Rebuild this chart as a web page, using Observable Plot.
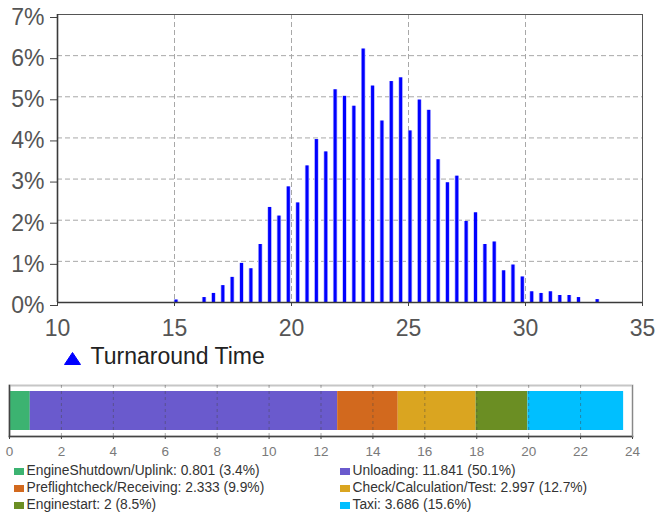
<!DOCTYPE html>
<html><head><meta charset="utf-8">
<script src="https://cdn.jsdelivr.net/npm/d3@7"></script>
<script src="https://cdn.jsdelivr.net/npm/@observablehq/plot@0.6"></script>
<style>
body{margin:0;background:#fff;font-family:"Liberation Sans",Arial,sans-serif;}
#wrap{position:relative;width:659px;height:512px;overflow:hidden;background:#fff;}
#top{position:absolute;left:0;top:0;}
#bot{position:absolute;left:0;top:375px;}
#leg1{position:absolute;left:64px;top:342.5px;height:26px;line-height:26px;font-size:23px;color:#222;white-space:nowrap;}
#leg1 svg{position:absolute;left:0;top:9px;}
#leg1 span{position:absolute;left:26.5px;top:0;}
.sw{position:absolute;width:10px;height:7px;}
.lt{position:absolute;font-size:13.8px;line-height:16px;color:#333;white-space:nowrap;}
</style></head><body><div id="wrap"><div id="top"></div><div id="leg1"></div><div id="bot"></div><div id="leg2"></div></div>
<script>
// ---- data ----
const binX = [15.0,16.2,16.6,17.0,17.4,17.8,18.2,18.6,19.0,19.4,19.8,20.2,20.6,21.0,21.4,21.8,22.2,22.6,23.0,23.4,23.8,24.2,24.6,25.0,25.4,25.8,26.2,26.6,27.0,27.4,27.8,28.2,28.6,29.0,29.4,29.8,30.2,30.6,31.0,31.4,31.8,32.2,33.0];
const binPct = [0.06,0.12,0.22,0.41,0.61,0.95,0.82,1.41,2.31,2.10,2.81,2.42,3.32,3.96,3.66,5.17,5.01,4.77,6.16,5.26,4.41,5.37,5.46,4.17,4.92,4.67,3.47,2.91,3.07,1.97,2.18,1.41,1.47,0.77,0.91,0.62,0.26,0.22,0.26,0.17,0.17,0.12,0.07];
const xTicks = [10,15,20,25,30,35];
const yTicks = [0,1,2,3,4,5,6,7];
const seriesName = "Turnaround Time";

const phaseNames = ["EngineShutdown/Uplink","Unloading","Preflightcheck/Receiving","Check/Calculation/Test","Enginestart","Taxi"];
const phaseValues = [0.801,11.841,2.333,2.997,2,3.686];
const phasePctLabels = ["3.4%","50.1%","9.9%","12.7%","8.5%","15.6%"];
const phaseValueLabels = ["0.801","11.841","2.333","2.997","2","3.686"];
const phaseColors = ["#3cb371","#6a5acd","#d2691e","#daa520","#6b8e23","#00bfff"];
const botTicks = [0,2,4,6,8,10,12,14,16,18,20,22,24];

const bins = binX.map((x,i)=>({x, v: binPct[i]}));
const font = "'Liberation Sans', Arial, sans-serif";

const topPlot = Plot.plot({
  width:659, height:345, marginLeft:57, marginRight:17, marginTop:14, marginBottom:43,
  style:{fontFamily:font, fontSize:"23px", color:"#555", background:"white", overflow:"visible"},
  x:{domain:[10,35], label:null}, y:{domain:[0,7], label:null},
  marks:[
    Plot.gridX([15,20,25,30], {stroke:"#a8a8a8", strokeOpacity:1, strokeDasharray:"5,3"}),
    Plot.gridY([1,2,3,4,5,6], {stroke:"#a8a8a8", strokeOpacity:1, strokeDasharray:"5,3"}),
    Plot.ruleX(bins, {x:"x", y1:0, y2:"v", stroke:"#b8b8ff", strokeWidth:4.4, dx:1.5}),
    Plot.ruleX(bins, {x:"x", y1:0, y2:"v", stroke:"#0000ff", strokeWidth:3, dx:1.5}),
    Plot.frame({stroke:"#555"}),
    Plot.axisX(xTicks, {tickSize:4, tickPadding:13, stroke:"#444", fill:"#555", label:null}),
    Plot.axisY(yTicks, {tickSize:7, tickPadding:6, dy:3, stroke:"#444", fill:"#555", label:null, tickFormat:d=>d+"%"}),
    Plot.ruleY([0], {stroke:"#3a3a3a", strokeWidth:1.6}),
    Plot.ruleX([10], {stroke:"#3a3a3a", strokeWidth:1.6})
  ]
});
document.getElementById("top").appendChild(topPlot);

document.getElementById("leg1").innerHTML =
  '<svg width="17" height="13" viewBox="0 0 17 13"><path d="M8.5 0.5 L16.5 12.5 L0.5 12.5 Z" fill="#0000ff" stroke="#0000ff" stroke-linejoin="round" stroke-width="1"/></svg><span></span>';
document.querySelector("#leg1 span").textContent = seriesName;

const segs = phaseNames.map((n,i)=>({name:n, value:phaseValues[i], row:"T"}));
const botPlot = Plot.plot({
  width:659, height:90, marginLeft:9, marginRight:27, marginTop:10, marginBottom:29,
  style:{fontFamily:font, fontSize:"13.5px", color:"#7a7a7a", background:"white", overflow:"visible"},
  x:{domain:[0,24], label:null}, y:{domain:["T"], axis:null, padding:0, label:null},
  color:{domain:phaseNames, range:phaseColors},
  marks:[
    Plot.frame({stroke:"#c6c6c6", strokeWidth:2}),
    Plot.barX(segs, {x:"value", y:"row", fill:"name", insetTop:6, insetBottom:6}),
    Plot.gridX(botTicks.slice(1,-1), {stroke:"#444", strokeOpacity:0.45, strokeDasharray:"3,3"}),
    Plot.axisX(botTicks, {tickSize:3, tickPadding:7, stroke:"#444", fill:"#7a7a7a", label:null}),
    Plot.frame({anchor:"left", stroke:"#444", strokeWidth:1.5}),
    Plot.frame({anchor:"bottom", stroke:"#444", strokeWidth:1.5}),
    Plot.frame({anchor:"right", stroke:"#888"})
  ]
});
document.getElementById("bot").appendChild(botPlot);

const leg2 = document.getElementById("leg2");
const colX = [13.5, 339.5];
const rowBase = [475.7, 492.4, 509.1];
phaseNames.forEach((n,i)=>{
  const c = i % 2, r = Math.floor(i/2);
  const sw = document.createElement("div");
  sw.className = "sw";
  sw.style.left = colX[c] + "px";
  sw.style.top = (rowBase[r] - 7.5) + "px";
  sw.style.background = phaseColors[i];
  leg2.appendChild(sw);
  const t = document.createElement("div");
  t.className = "lt";
  t.style.left = (colX[c] + 13) + "px";
  t.style.top = (rowBase[r] - 12.6) + "px";
  t.textContent = n + ": " + phaseValueLabels[i] + " (" + phasePctLabels[i] + ")";
  leg2.appendChild(t);
});
</script></body></html>
